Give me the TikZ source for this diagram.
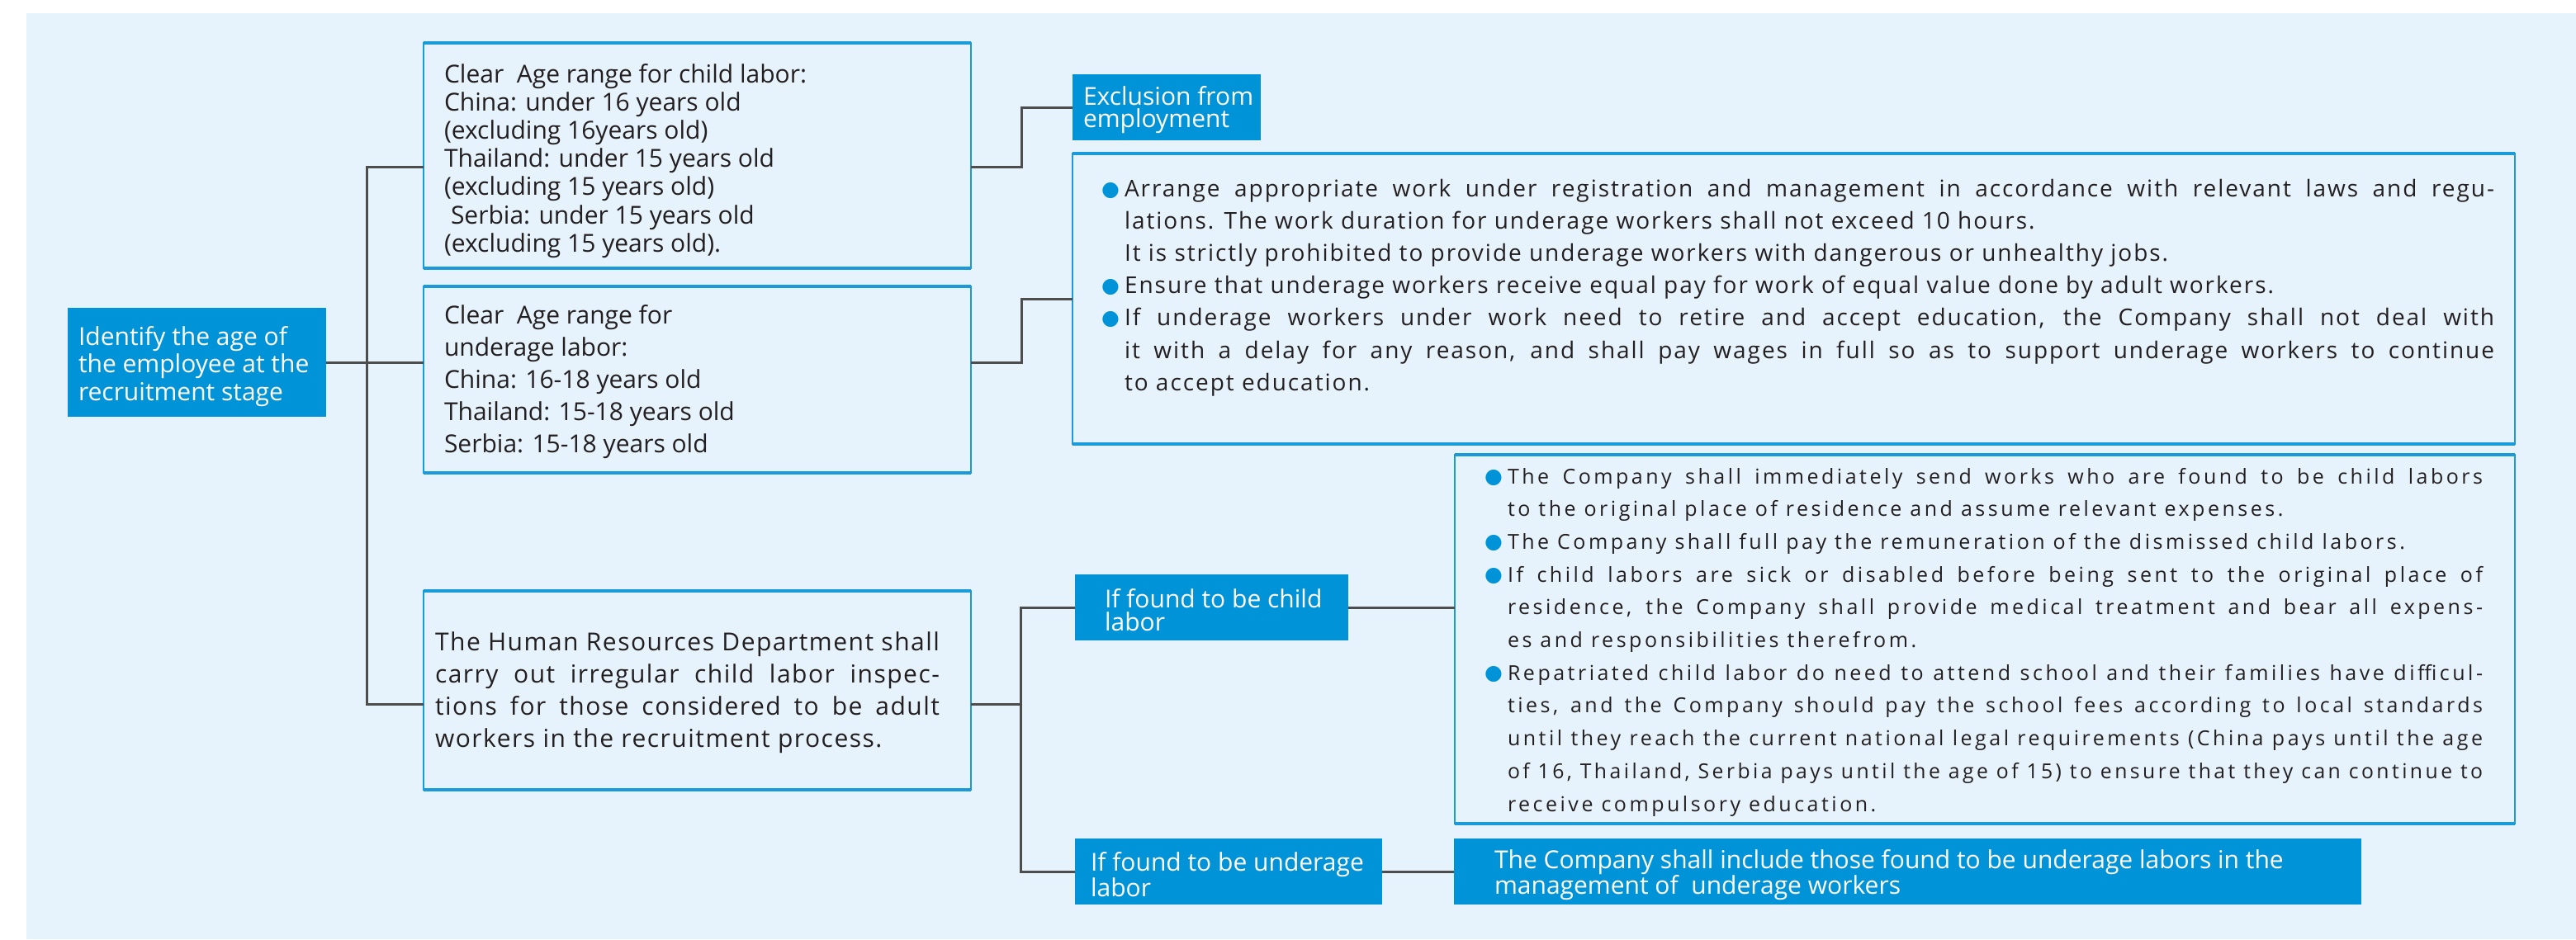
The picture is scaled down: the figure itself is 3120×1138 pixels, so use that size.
\documentclass[tikz,border=0pt]{standalone}
\usepackage{fontspec}
\usepackage{graphicx}
\setmainfont{Open Sans}
\newfontfamily\symfont{DejaVu Sans}
\usetikzlibrary{calc}
\definecolor{bgblue}{RGB}{230,243,253}
\definecolor{fillblue}{RGB}{0,147,216}
\definecolor{lineblue}{RGB}{26,154,217}
\definecolor{connc}{RGB}{77,77,77}
\definecolor{txtc}{RGB}{35,31,32}
\newsavebox\lnbox
\newcommand\jl[2]{\sbox\lnbox{#2}\ifdim\wd\lnbox>#1\relax\resizebox{#1}{\height}{\usebox\lnbox}\else\makebox[#1][s]{#2}\fi}
\newcommand\bul{\makebox[23pt][l]{\hspace*{-5pt}\raisebox{1pt}{\symfont\fontsize{25}{25}\selectfont\textcolor{fillblue}{●}}}}
\newcommand\ind{\hspace*{23pt}}
\tikzset{
 obox/.style={draw=lineblue, line width=2pt, fill=bgblue, inner sep=0pt, outer sep=0pt, anchor=north west},
 fillbox/.style={fill=fillblue, inner sep=0pt, outer sep=0pt, anchor=north west},
 tx/.style={inner sep=0pt, outer sep=0pt, anchor=base west, text=txtc},
 wtx/.style={tx, text=white},
 cn/.style={draw=connc, line width=3pt},
 thickedge/.style={draw=lineblue, line width=3.5pt}
}
\begin{document}
\begin{tikzpicture}[x=1pt,y=-1pt]
\useasboundingbox (0,0) rectangle (3120,1138);
\fill[bgblue] (32,16) rectangle (3120,1138);

% boxes
\node[fillbox, minimum width=313, minimum height=132] (I) at (82,373) {};
\node[obox, minimum width=663, minimum height=273] (A) at (513,52) {};
\node[obox, minimum width=663, minimum height=226] (B) at (513,347) {};
\node[obox, minimum width=663, minimum height=241] (E) at (513,716) {};
\node[fillbox, minimum width=228, minimum height=80] (X) at (1299,90) {};
\node[obox, minimum width=1747, minimum height=352] (C) at (1299,186) {};
\node[obox, minimum width=1284, minimum height=447] (D) at (1762,551) {};
\node[fillbox, minimum width=331, minimum height=80] (K) at (1302,696) {};
\node[fillbox, minimum width=372, minimum height=80] (U) at (1302,1016) {};
\node[fillbox, minimum width=1099, minimum height=80] (F) at (1761,1016) {};
\foreach \n in {A,B,C,D,E}{\draw[thickedge] (\n.north west) -- (\n.north east) (\n.south west) -- (\n.south east);}

% connectors
\coordinate (tA) at (444,202);
\coordinate (tE) at (444,853);
\coordinate (jR) at (1237,0);
\coordinate (jE) at (1236,853);
\draw[cn] (I.east) -- (I.east -| B.west);
\draw[cn] (A.west |- tA) -- (tA) -- (tE) -- (E.west |- tE);
\draw[cn] (A.east |- tA) -| (jR |- X.west) -- (X.west);
\draw[cn] (B.east |- I.east) -| (jR |- C.west) -- (C.west);
\draw[cn] (E.east |- tE) -- (jE);
\draw[cn] (K.west) -- (K.west -| jE) -- (U.west -| jE) -- (U.west);
\draw[cn] (K.east) -- (K.east -| D.west);
\draw[cn] (U.east) -- (F.west);

% texts
\node[wtx] (Itx) at (95,418) {\parbox[t]{300pt}{\fontsize{30}{33.5}\selectfont\raggedright
Identify the age of\\the employee at the\\recruitment stage}};
\node[wtx] (Xtx) at (1312,127) {\parbox[t]{220pt}{\fontsize{30}{27}\selectfont\raggedright
Exclusion from\\employment}};
\node[wtx] (Ktx) at (1338,736) {\parbox[t]{300pt}{\fontsize{30}{28}\selectfont\raggedright
If found to be child\\labor}};
\node[wtx] (Utx) at (1321,1055) {\parbox[t]{360pt}{\fontsize{30}{29}\selectfont\raggedright
If found to be underage\\labor}};
\node[wtx] (Ftx) at (1810,1052) {\parbox[t]{1050pt}{\fontsize{30}{27}\selectfont\raggedright
The Company shall include those found to be underage labors in the\\management of\ \ underage workers}};

\node[tx] (Atx) at (538,100) {\parbox[t]{630pt}{\fontsize{30}{34.2}\selectfont\raggedright
Clear\ \ Age range for child labor:\\
China: under 16 years old\\
(excluding 16years old)\\
Thailand: under 15 years old\\
(excluding 15 years old)\\
\hspace*{8pt}Serbia: under 15 years old\\
(excluding 15 years old).}};

\node[tx] (Btx) at (538,392) {\parbox[t]{630pt}{\fontsize{30}{39}\selectfont\raggedright
Clear\ \ Age range for\\
underage labor:\\
China: 16-18 years old\\
Thailand: 15-18 years old\\
Serbia: 15-18 years old}};

\node[tx] (Etx) at (527,788) {\parbox[t]{640pt}{\fontsize{30}{39}\selectfont\addfontfeatures{LetterSpace=5}\raggedright
\jl{611pt}{The Human Resources Department shall}\\
\jl{611pt}{carry out irregular child labor inspec-}\\
\jl{611pt}{tions for those considered to be adult}\\
workers in the recruitment process.}};

\node[tx] (Ctx) at (1339,238) {\parbox[t]{1720pt}{\fontsize{28}{39.2}\selectfont\addfontfeatures{LetterSpace=7}\raggedright
\bul\jl{1659pt}{Arrange appropriate work under registration and management in accordance with relevant laws and regu-}\\
\ind lations. The work duration for underage workers shall not exceed 10 hours.\\
\ind It is strictly prohibited to provide underage workers with dangerous or unhealthy jobs.\\
\bul Ensure that underage workers receive equal pay for work of equal value done by adult workers.\\
\bul\jl{1659pt}{If underage workers under work need to retire and accept education, the Company shall not deal with}\\
\ind\jl{1659pt}{it with a delay for any reason, and shall pay wages in full so as to support underage workers to continue}\\
\ind to accept education.}};

\node[tx] (Dtx) at (1803,586) {\parbox[t]{1230pt}{\fontsize{25}{39.7}\selectfont\addfontfeatures{LetterSpace=14}\raggedright
\bul\jl{1181pt}{The Company shall immediately send works who are found to be child labors}\\
\ind to the original place of residence and assume relevant expenses.\\
\bul The Company shall full pay the remuneration of the dismissed child labors.\\
\bul\jl{1181pt}{If child labors are sick or disabled before being sent to the original place of}\\
\ind\jl{1181pt}{residence, the Company shall provide medical treatment and bear all expens-}\\
\ind es and responsibilities therefrom.\\
\bul\jl{1181pt}{Repatriated child labor do need to attend school and their families have difficul-}\\
\ind\jl{1181pt}{ties, and the Company should pay the school fees according to local standards}\\
\ind\jl{1181pt}{until they reach the current national legal requirements (China pays until the age}\\
\ind\jl{1181pt}{of 16, Thailand, Serbia pays until the age of 15) to ensure that they can continue to}\\
\ind receive compulsory education.}};
\end{tikzpicture}
\end{document}
